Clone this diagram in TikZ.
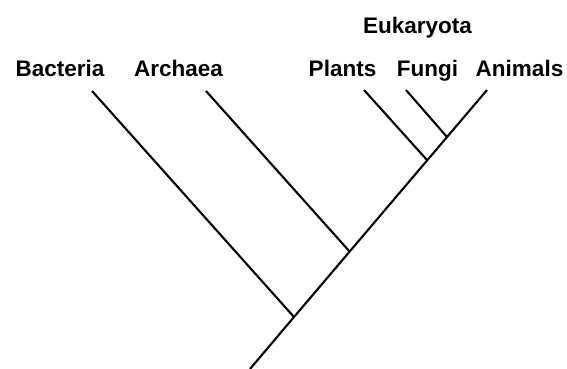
\documentclass[tikz,border=0pt]{standalone}
\usepackage{fontspec}
\setmainfont{Liberation Sans}
\begin{document}
\begin{tikzpicture}[x=1pt,y=1pt,
  branch/.style={line width=2.1pt, line cap=butt},
  taxon/.style={anchor=base, inner sep=0pt, font=\bfseries\fontsize{22.5}{26}\selectfont}]
\useasboundingbox (0,0) rectangle (567,369);
% labels
\node[taxon] (bac) at (60,292) {Bacteria};
\node[taxon] (arc) at (178.5,292) {Archaea};
\node[taxon] (pla) at (342.5,292) {Plants};
\node[taxon] (fun) at (427.5,292) {Fungi};
\node[taxon] (ani) at (519.5,292) {Animals};
\node[taxon] (euk) at (417.5,335) {Eukaryota};
% tips and junctions
\coordinate (tbac) at (92,278);
\coordinate (tarc) at (206,278);
\coordinate (tpla) at (364,279);
\coordinate (tfun) at (406,279);
\coordinate (tani) at (487,279);
\coordinate (root) at (250,0);
\coordinate (j1) at (294,52);
\coordinate (j2) at (350,117);
\coordinate (j3) at (427,209);
\coordinate (j4) at (447,232);
% branches
\draw[branch] (root) -- (j1) -- (tani);
\draw[branch] (tbac) -- (j1);
\draw[branch] (tarc) -- (j2);
\draw[branch] (tpla) -- (j3);
\draw[branch] (tfun) -- (j4);
\end{tikzpicture}
\end{document}
